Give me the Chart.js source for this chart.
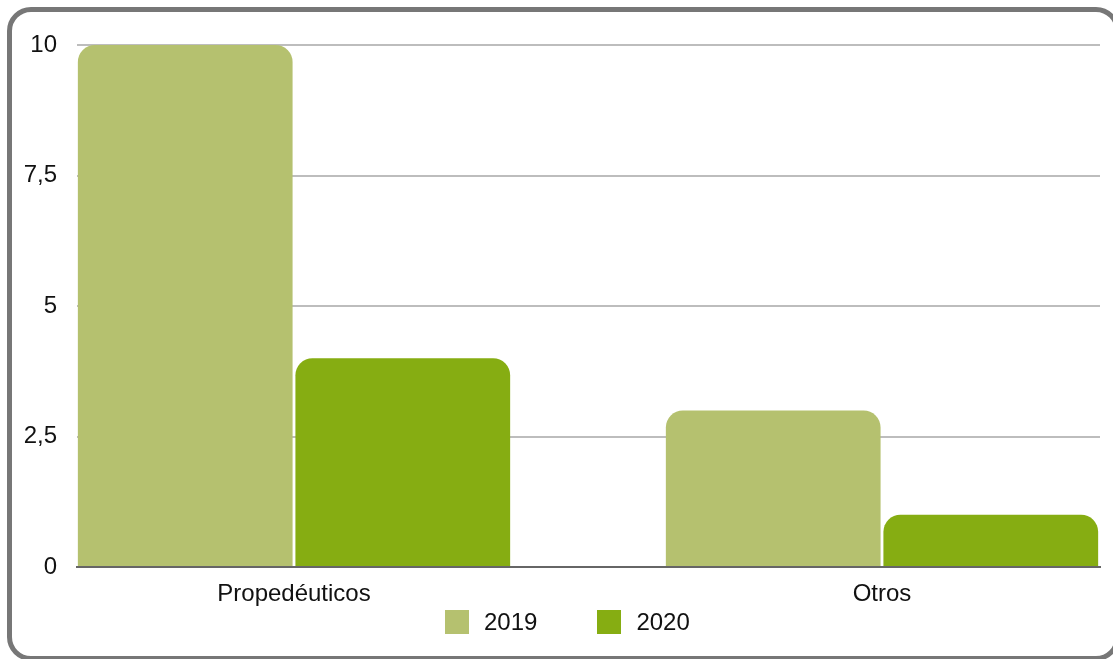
<!DOCTYPE html>
<html>
<head>
<meta charset="utf-8">
<script src="https://cdn.jsdelivr.net/npm/chart.js@4/dist/chart.umd.min.js"></script>
<style>
  html, body { margin: 0; padding: 0; background: #fff; overflow: hidden; width: 1113px; height: 659px; }
  #frame { position: absolute; left: 7px; top: 7px; width: 1113px; height: 654px; box-sizing: border-box;
           border: 5px solid #777; border-radius: 24px; }
  #wrap { position: absolute; left: 0; top: 0; width: 1113px; height: 659px; }
  #legend { position: absolute; left: 445px; top: 610px; display: flex; align-items: center;
            font-family: 'Liberation Sans', Arial, sans-serif; font-size: 24px; color: #111; }
  .item { display: flex; align-items: center; margin-right: 60px; }
  .box { width: 24px; height: 24px; margin-right: 15px; }
  .lbl { line-height: 24px; position: relative; top: 0px; }
</style>
</head>
<body>
<div id="frame"></div>
<div id="wrap"><canvas id="c" width="1113" height="659"></canvas></div>
<div id="legend"></div>
<script>
const categories = ['Propedéuticos', 'Otros'];
const seriesLabels = ['2019', '2020'];
const values2019 = [10, 3];
const values2020 = [4, 1];
const seriesColors = ['#b5c16f', '#86ad12'];
const yTicks = [0, 2.5, 5, 7.5, 10];

Chart.defaults.font.family = "'Liberation Sans', Arial, sans-serif";
Chart.defaults.font.size = 24;
Chart.defaults.color = '#111';

const seriesValues = [values2019, values2020];
const datasets = seriesLabels.map((lab, k) => ({
  label: lab,
  data: categories.map((c, i) => ({ x: i, y: seriesValues[k][i] })),
  backgroundColor: seriesColors[k],
  borderWidth: 0,
  borderRadius: 17,
  borderSkipped: 'start',
  categoryPercentage: 0.74,
  barPercentage: 0.987
}));

new Chart(document.getElementById('c'), {
  type: 'bar',
  data: { labels: categories, datasets },
  options: {
    responsive: false,
    animation: false,
    layout: { padding: { top: 45, right: 13, bottom: 42, left: 0 } },
    plugins: { legend: { display: false }, tooltip: { enabled: false } },
    scales: {
      x: {
        type: 'linear',
        min: -0.36905,
        max: 1.37075,
        offset: false,
        grid: { display: false, offset: false },
        border: { display: true, color: '#666', width: 2 },
        afterBuildTicks: (s) => { s.ticks = categories.map((c, i) => ({ value: i })); },
        ticks: { padding: 5, callback: (v) => categories[v] ?? '' , maxRotation: 0, autoSkip: false },
        afterFit: (s) => { s.height = 50; }
      },
      y: {
        min: 0,
        max: 10,
        afterBuildTicks: (s) => { s.ticks = yTicks.map(v => ({ value: v })); },
        grid: { color: '#bdbdbd', lineWidth: 2, drawTicks: false },
        border: { display: false },
        ticks: { padding: 20, callback: (v) => String(v).replace('.', ',') },
        afterFit: (s) => { s.width = 77; }
      }
    }
  }
});

const legendEl = document.getElementById('legend');
seriesLabels.forEach((lab, k) => {
  const it = document.createElement('div');
  it.className = 'item';
  const b = document.createElement('div');
  b.className = 'box';
  b.style.background = seriesColors[k];
  const t = document.createElement('span');
  t.className = 'lbl';
  t.textContent = lab;
  it.appendChild(b); it.appendChild(t);
  legendEl.appendChild(it);
});
</script>
</body>
</html>
